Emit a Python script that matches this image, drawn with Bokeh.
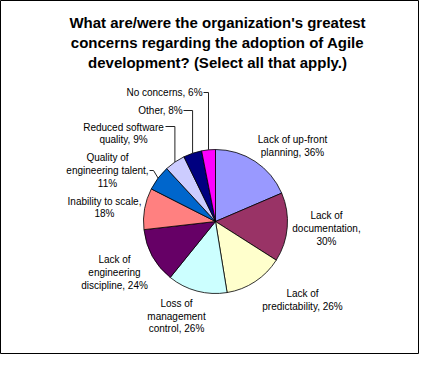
import numpy as np
from bokeh.plotting import figure
from bokeh.models import ColumnDataSource, Range1d
from bokeh.core.properties import value
from bokeh.embed import file_html
from bokeh.resources import INLINE

# ---- data ----
categories = ["Lack of up-front planning", "Lack of documentation", "Lack of predictability",
              "Loss of management control", "Lack of engineering discipline", "Inability to scale",
              "Quality of engineering talent", "Reduced software quality", "Other", "No concerns"]
values = [36, 30, 26, 26, 24, 18, 11, 9, 8, 6]
colors = ["#9999FF", "#993366", "#FFFFCC", "#CCFFFF", "#660066", "#FF8080",
          "#0066CC", "#CCCCFF", "#000080", "#FF00FF"]
label_texts = ["Lack of up-front\nplanning, 36%", "Lack of\ndocumentation,\n30%",
               "Lack of\npredictability, 26%", "Loss of\nmanagement\ncontrol, 26%",
               "Lack of\nengineering\ndiscipline, 24%", "Inability to scale,\n18%",
               "Quality of\nengineering talent,\n11%", "Reduced software\nquality, 9%",
               "Other, 8%", "No concerns, 6%"]
title_lines = ["What are/were the organization's greatest",
               "concerns regarding the adoption of Agile",
               "development? (Select all that apply.)"]

# ---- layout (reference pixel coords, y down) ----
W, H = 419, 354
OX, OY = 1, 1          # offset of the frame relative to reference coords
CX, CY, R = 216, 222, 72
label_pos = [(293, 146.5), (327, 229), (303, 300.5), (177, 316.5), (115, 273),
             (105, 208), (108, 171), (124, 134), (161, 111), (165, 93)]
leader_start = {6: [(150, 171), (154, 171)], 7: [(166, 127)], 8: [(184, 111)], 9: [(204, 93)]}
FONT = "Liberation Sans"

def Y(y):
    return 370 - y

p = figure(width=W, height=H, x_range=Range1d(OX, OX + W), y_range=Range1d(370 - OY - H, 370 - OY),
           output_backend="svg", toolbar_location=None, x_axis_type=None, y_axis_type=None,
           min_border=0, background_fill_color="white", border_fill_color="white")
p.grid.visible = False
p.outline_line_color = "black"
p.outline_line_width = 1

vals = np.array(values, dtype=float)
frac = vals / vals.sum()
cum_end = np.cumsum(frac)
cum_start = cum_end - frac
start = np.pi / 2 - 2 * np.pi * cum_start
end = np.pi / 2 - 2 * np.pi * cum_end
src = ColumnDataSource(dict(start=start, end=end, color=colors, cat=categories))
p.wedge(x=CX, y=Y(CY), radius=R, start_angle="start", end_angle="end", direction="clock",
        fill_color="color", line_color="black", line_width=0.8, source=src)

# leader lines
mid = np.pi / 2 - 2 * np.pi * (cum_start + frac / 2)
xs, ys = [], []
for i, pts in leader_start.items():
    ex = CX + R * np.cos(mid[i])
    ey = CY - R * np.sin(mid[i])
    px = [pt[0] for pt in pts]
    py = [pt[1] for pt in pts]
    if i != 6:
        px.append(ex)
        py.append(py[0])
    px.append(ex)
    py.append(ey)
    xs.append(px)
    ys.append([Y(v) for v in py])
p.multi_line(xs=xs, ys=ys, line_color="#222222", line_width=1)

# labels
lx, ly, lt = [], [], []
LH = 12.8
for (x, y), t in zip(label_pos, label_texts):
    lines = t.split("\n")
    n = len(lines)
    for k, s in enumerate(lines):
        lx.append(x)
        ly.append(Y(y + (k - (n - 1) / 2) * LH))
        lt.append(s)
p.text(x=lx, y=ly, text=lt, text_align="center", text_baseline="middle",
       text_font=value(FONT), text_font_size="10px", text_color="black")

# title
p.text(x=[218] * 3, y=[Y(23), Y(43), Y(63)], text=title_lines, text_align="center",
       text_baseline="middle", text_font=value(FONT), text_font_size="15px",
       text_font_style="bold", text_color="black")

open("out.html", "w").write(file_html(p, INLINE))
